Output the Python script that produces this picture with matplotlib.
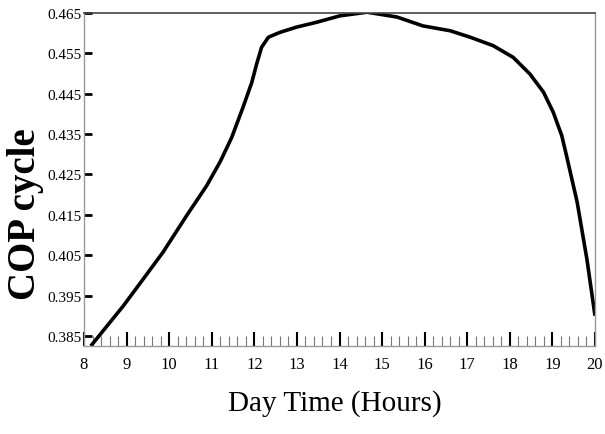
import matplotlib
matplotlib.use("Agg")
import matplotlib.pyplot as plt
from matplotlib.ticker import MultipleLocator

hours = [8.16, 8.92, 9.16, 9.86, 10.41, 10.88, 11.2, 11.47, 11.74, 11.94,
         12.05, 12.17, 12.33, 12.60, 12.99, 13.46, 14.01, 14.65, 15.35, 15.96,
         16.60, 17.07, 17.61, 18.08, 18.47, 18.79, 19.02, 19.22, 19.33, 19.58,
         19.81, 20.0]
cop = [0.3825, 0.3924, 0.3958, 0.4058, 0.4148, 0.4222, 0.4282, 0.4342, 0.4418, 0.4478,
       0.4522, 0.4565, 0.4590, 0.4602, 0.4615, 0.4627, 0.4643, 0.4652, 0.4640, 0.4618,
       0.4606, 0.4590, 0.4569, 0.4540, 0.4499, 0.4454, 0.4404, 0.4346, 0.4297, 0.4182,
       0.4040, 0.3900]

x_ticks = list(range(8, 21))
y_ticks = [0.385, 0.395, 0.405, 0.415, 0.425, 0.435, 0.445, 0.455, 0.465]
y_labels = ["0.385", "0.395", "0.405", "0.415", "0.425", "0.435", "0.445", "0.455", "0.465"]

plt.rcParams['font.family'] = ['Liberation Serif', 'DejaVu Serif']

fig = plt.figure(figsize=(6.05, 4.35), dpi=100)
ax = fig.add_axes([84/605, 88/435, (595-84)/605, (347-14)/435])

ax.plot(hours, cop, color='black', lw=2.6, solid_capstyle='butt', solid_joinstyle='round')

ax.set_xlim(8, 20)
ax.set_ylim(0.3825, 0.465)

ax.set_xticks(x_ticks)
ax.set_xticklabels([str(t) for t in x_ticks], fontsize=12)
ax.xaxis.set_minor_locator(MultipleLocator(0.2))
ax.set_yticks(y_ticks)
ax.set_yticklabels(y_labels, fontsize=11)

ax.tick_params(axis='x', which='major', direction='in', length=10, width=1.5,
               color='black', pad=7)
ax.tick_params(axis='x', which='minor', direction='in', length=7, width=0.8,
               color='#777777')
ax.tick_params(axis='y', which='major', direction='in', length=6, width=2,
               color='black', pad=2)

for side in ['left', 'bottom', 'right']:
    ax.spines[side].set_color('#999999')
    ax.spines[side].set_linewidth(1.0)
ax.spines['top'].set_color('#444444')
ax.spines['top'].set_linewidth(1.2)

ax.set_ylabel("COP cycle", fontsize=28, fontweight='bold')
ax.set_xlabel("Day Time (Hours)", fontsize=21)
ax.yaxis.set_label_coords(-0.078, 0.40)
ax.xaxis.set_label_coords(0.49, -0.13)

fig.savefig("out.png", dpi=100)
